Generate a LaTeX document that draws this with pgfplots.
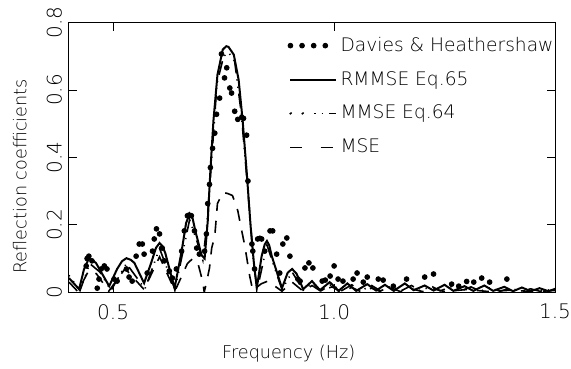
\documentclass[border=0pt]{standalone}
\usepackage{pgfplots}
\pgfplotsset{compat=1.18}
\usepackage{fontspec}
\setmainfont{DejaVu Sans ExtraLight}
\begin{document}
\begin{tikzpicture}
\begin{axis}[
  scale only axis, width=242.5pt, height=134.5pt,
  xmin=0.4, xmax=1.5, ymin=0, ymax=0.8,
  axis line style={line width=0.5pt},
  tick align=inside, major tick length=4pt,
  tick style={line width=0.5pt, black},
  xtick={0.5,1.0,1.5}, xticklabels={0.5,1.0,1.5},
  ytick={0,0.2,0.4,0.6,0.8}, yticklabels={0,0.2,0.4,0.6,0.8},
  xticklabel style={font=\fontsize{10}{12}\selectfont, yshift=-2.5pt, inner xsep=0pt},
  yticklabel style={font=\fontsize{10}{12}\selectfont, rotate=90, anchor=south},
  /pgf/number format/assume math mode=true,
  xlabel={Frequency (Hz)}, ylabel={Reflection coefficients},
  xlabel style={font=\fontsize{8.8}{10}\selectfont, at={(axis description cs:0.452,0)}, anchor=center, yshift=-30.5pt},
  ylabel style={font=\fontsize{8.8}{10}\selectfont, at={(axis description cs:-0.101,0.43)}, anchor=center, inner sep=6.5pt},
  legend style={draw=none, fill=none, at={(rel axis cs:0.449,1)}, anchor=north west, yshift=-5pt,
    font=\fontsize{9.3}{11}\selectfont, inner xsep=0pt, inner ysep=0pt, row sep=4.5pt,
    nodes={inner sep=2pt}},
  legend cell align=left,
  clip=true,
]
% Davies & Heathershaw
\addplot[only marks, mark=*, mark size=1.2pt, black,
  legend image code/.code={\foreach \x in {0pt,5.8pt,11.6pt,17.4pt}{\fill[black] (\x,0) circle (1.2pt);}}]
coordinates {
(0.439,0.078)(0.441,0.100)(0.445,0.107)(0.452,0.093)(0.464,0.012)(0.468,0.039)
(0.473,0.069)(0.480,0.078)(0.486,0.069)(0.502,0.039)(0.509,0.033)(0.530,0.069)
(0.536,0.045)(0.543,0.033)(0.552,0.107)(0.559,0.143)(0.566,0.143)(0.570,0.113)
(0.577,0.057)(0.589,0.122)(0.593,0.158)(0.598,0.188)(0.605,0.173)(0.611,0.131)
(0.616,0.093)(0.627,0.063)(0.634,0.042)(0.643,0.069)(0.655,0.122)(0.661,0.182)
(0.668,0.227)(0.672,0.229)(0.677,0.227)(0.684,0.182)(0.689,0.131)(0.695,0.113)
(0.707,0.122)(0.711,0.173)(0.714,0.263)(0.718,0.320)(0.720,0.370)(0.725,0.427)
(0.730,0.472)(0.734,0.528)(0.741,0.576)(0.745,0.707)(0.752,0.636)(0.757,0.666)
(0.764,0.606)(0.768,0.591)(0.775,0.537)(0.782,0.513)(0.791,0.519)(0.795,0.516)
(0.802,0.466)(0.805,0.330)(0.814,0.143)(0.816,0.122)(0.820,0.069)(0.827,0.158)
(0.832,0.160)(0.836,0.158)(0.843,0.122)(0.855,0.182)(0.861,0.182)(0.870,0.113)
(0.877,0.057)(0.884,0.143)(0.893,0.161)(0.900,0.107)(0.918,0.039)(0.923,0.033)
(0.934,0.072)(0.943,0.087)(0.952,0.072)(0.973,0.033)(0.980,0.036)(0.991,0.048)
(1.000,0.078)(1.009,0.039)(1.020,0.033)(1.043,0.039)(1.052,0.057)(1.066,0.030)
(1.075,0.045)(1.100,0.039)(1.111,0.036)(1.134,0.018)(1.164,0.039)(1.205,0.045)
(1.225,0.054)(1.266,0.024)(1.282,0.018)(1.300,0.032)(1.316,0.030)(1.334,0.042)
(1.352,0.030)(1.391,0.039)
};
\addlegendentry{Davies \& Heathershaw}
% RMMSE Eq.65
\addplot[black, line width=1pt, mark=none,
  legend image code/.code={\draw[black, line width=1pt] (0pt,0)--(22.5pt,0);}]
coordinates {
(0.400,0.042)(0.423,0.009)(0.434,0.068)(0.445,0.100)(0.452,0.096)(0.461,0.087)
(0.491,0.018)(0.509,0.069)(0.520,0.092)(0.530,0.101)(0.540,0.096)(0.548,0.087)
(0.570,0.027)(0.586,0.087)(0.597,0.132)(0.605,0.146)(0.612,0.136)(0.618,0.116)
(0.639,0.012)(0.655,0.122)(0.665,0.205)(0.673,0.233)(0.680,0.218)(0.686,0.182)
(0.700,0.110)(0.707,0.100)(0.714,0.210)(0.720,0.360)(0.727,0.510)(0.736,0.645)
(0.748,0.720)(0.756,0.730)(0.761,0.728)(0.773,0.705)(0.784,0.630)(0.793,0.510)
(0.802,0.360)(0.811,0.197)(0.818,0.093)(0.825,0.012)(0.836,0.107)(0.843,0.142)
(0.848,0.152)(0.853,0.140)(0.859,0.107)(0.882,0.012)(0.895,0.058)(0.905,0.069)
(0.915,0.055)(0.930,0.009)(0.950,0.033)(0.968,0.006)(0.990,0.030)(1.010,0.004)
(1.030,0.026)(1.050,0.004)(1.075,0.024)(1.095,0.005)(1.115,0.022)(1.135,0.004)
(1.160,0.026)(1.180,0.006)(1.205,0.020)(1.225,0.005)(1.250,0.022)(1.270,0.004)
(1.295,0.018)(1.315,0.004)(1.340,0.020)(1.360,0.004)(1.385,0.016)(1.405,0.003)
(1.425,0.014)(1.445,0.003)(1.465,0.012)(1.485,0.003)(1.500,0.010)
};
\addlegendentry{RMMSE Eq.65}
% MMSE Eq.64
\addplot[black, line width=0.8pt, mark=none,
  dash pattern=on 0.6pt off 3pt on 0.6pt off 3pt on 7pt off 3pt,
  legend image code/.code={\fill[black] (0pt,0) circle (0.6pt); \fill[black] (6pt,0) circle (0.6pt); \draw[black, line width=0.9pt] (12pt,0)--(22.5pt,0);}]
coordinates {
(0.400,0.050)(0.425,0.005)(0.447,0.085)(0.470,0.060)(0.495,0.005)(0.530,0.085)
(0.572,0.010)(0.605,0.130)(0.640,0.008)(0.673,0.215)(0.690,0.150)(0.703,0.095)
(0.712,0.200)(0.720,0.340)(0.735,0.620)(0.750,0.700)(0.761,0.712)(0.775,0.685)
(0.790,0.530)(0.805,0.300)(0.818,0.085)(0.826,0.008)(0.848,0.140)(0.882,0.008)
(0.905,0.060)(0.930,0.006)(0.952,0.028)(0.970,0.004)(0.995,0.024)(1.015,0.003)
(1.040,0.022)(1.060,0.004)(1.085,0.020)(1.105,0.004)(1.130,0.018)(1.150,0.003)
(1.175,0.020)(1.195,0.004)(1.220,0.018)(1.240,0.004)(1.265,0.016)(1.285,0.003)
(1.310,0.016)(1.330,0.003)(1.355,0.014)(1.375,0.003)(1.400,0.012)(1.420,0.003)
(1.445,0.010)(1.465,0.003)(1.500,0.009)
};
\addlegendentry{MMSE Eq.64}
% MSE
\addplot[black, line width=0.8pt, mark=none, dash pattern=on 6pt off 5pt,
  legend image code/.code={\draw[black, line width=0.9pt] (0pt,0)--(7.5pt,0); \draw[black, line width=0.9pt] (15pt,0)--(22.5pt,0);}]
coordinates {
(0.400,0.030)(0.420,0.002)(0.445,0.065)(0.462,0.055)(0.490,0.003)(0.527,0.070)
(0.570,0.008)(0.605,0.105)(0.640,0.004)(0.668,0.085)(0.680,0.100)(0.692,0.085)
(0.703,0.030)(0.706,0.000)(0.711,0.027)(0.718,0.072)(0.723,0.131)(0.730,0.167)
(0.736,0.263)(0.748,0.296)(0.759,0.293)(0.770,0.287)(0.782,0.242)(0.791,0.182)
(0.798,0.137)(0.809,0.048)(0.816,0.005)(0.835,0.025)(0.850,0.033)(0.882,0.003)
(0.905,0.030)(0.930,0.003)(0.950,0.020)(0.970,0.003)(0.995,0.016)(1.015,0.002)
(1.040,0.014)(1.060,0.002)(1.085,0.012)(1.105,0.002)(1.130,0.012)(1.150,0.002)
(1.175,0.010)(1.200,0.002)(1.225,0.010)(1.250,0.002)(1.300,0.008)(1.350,0.002)
(1.400,0.006)(1.450,0.002)(1.500,0.005)
};
\addlegendentry{MSE}
\end{axis}
\end{tikzpicture}
\end{document}
